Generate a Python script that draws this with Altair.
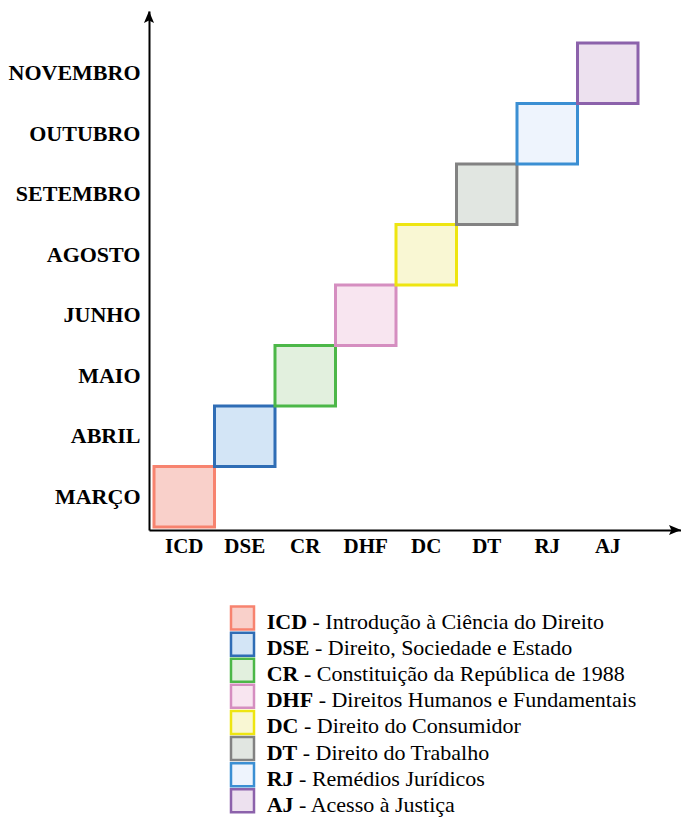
import altair as alt
import pandas as pd

# ---- data ----
courses = ["ICD", "DSE", "CR", "DHF", "DC", "DT", "RJ", "AJ"]
months = ["MARÇO", "ABRIL", "MAIO", "JUNHO", "AGOSTO", "SETEMBRO", "OUTUBRO", "NOVEMBRO"]
names = [
    "Introdução à Ciência do Direito",
    "Direito, Sociedade e Estado",
    "Constituição da República de 1988",
    "Direitos Humanos e Fundamentais",
    "Direito do Consumidor",
    "Direito do Trabalho",
    "Remédios Jurídicos",
    "Acesso à Justiça",
]
stroke_colors = ["#F7836F", "#2F6DB5", "#4CB748", "#D58EC0", "#EEE511", "#828282", "#3B8FD3", "#8C62AB"]
fill_colors = ["#F9D0CA", "#D3E5F6", "#E2F0DE", "#F8E5F0", "#F9F7D3", "#E1E6E1", "#EEF4FD", "#EDE1EF"]

FONT = "Liberation Serif"

# ---- layout helpers ----
W, H = 532, 519
STEP = 60.5
bands = 8 * STEP
x_outer = W - bands
y_outer = H - bands

# Times/Liberation Serif Bold advance widths (em)
bold_w = {"I": .389, "C": .722, "D": .722, "S": .556, "E": .667, "R": .722,
          "H": .778, "F": .611, "T": .667, "J": .5, "A": .722}
LEG_FS = 22
TEXT_X = 117.7
SPACE = 0.25

df = pd.DataFrame({"course": courses, "month": months, "name": names})
df["desc"] = "- " + df["name"]
df["desc_x"] = [TEXT_X + (sum(bold_w[c] for c in a) + SPACE) * LEG_FS for a in courses]

fill_scale = alt.Scale(domain=courses, range=fill_colors)
stroke_scale = alt.Scale(domain=courses, range=stroke_colors)

xs = alt.Scale(domain=courses, paddingInner=0, paddingOuter=x_outer / 2 / STEP, align=5 / x_outer)
ys = alt.Scale(domain=months[::-1], paddingInner=0, paddingOuter=y_outer / 2 / STEP, align=32 / y_outer)

axis_common = dict(
    title=None, ticks=False, grid=False, domainColor="black", domainWidth=2,
    labelFont=FONT, labelFontWeight="bold", labelColor="black", labelAngle=0,
)

rects = alt.Chart(df).mark_rect(strokeWidth=3).encode(
    x=alt.X("course:N", scale=xs, axis=alt.Axis(labelFontSize=21, labelPadding=5, **axis_common)),
    y=alt.Y("month:N", scale=ys, axis=alt.Axis(labelFontSize=22, labelPadding=9, **axis_common)),
    fill=alt.Fill("course:N", scale=fill_scale, legend=None),
    stroke=alt.Stroke("course:N", scale=stroke_scale, legend=None),
)

AR = 12  # arrowhead half-size in px (size = (2*AR)^2)
one = pd.DataFrame({"a": [0]})
arrow_up = alt.Chart(one).mark_point(
    shape="M0,-1 L-0.42,0 L0,-0.2 L0.42,0 Z", filled=True, color="black", opacity=1, size=(2 * AR) ** 2
).encode(x=alt.value(0), y=alt.value(AR))
arrow_right = alt.Chart(one).mark_point(
    shape="M1,0 L0,-0.42 L0.2,0 L0,0.42 Z", filled=True, color="black", opacity=1, size=(2 * AR) ** 2
).encode(x=alt.value(W - AR), y=alt.value(H))

main = alt.layer(rects, arrow_up, arrow_right).properties(width=W, height=H)

# ---- legend ----
LSTEP = 26.1
ly = alt.Y("course:N", scale=alt.Scale(domain=courses, paddingInner=0, paddingOuter=0), axis=None)
leg_sym = alt.Chart(df).mark_square(size=529, strokeWidth=2.5, opacity=1).encode(
    x=alt.value(93.5), y=ly,
    fill=alt.Fill("course:N", scale=fill_scale, legend=None),
    stroke=alt.Stroke("course:N", scale=stroke_scale, legend=None),
)
leg_abbr = alt.Chart(df).mark_text(
    align="left", baseline="alphabetic", dy=11, font=FONT, fontWeight="bold", fontSize=LEG_FS, color="black"
).encode(x=alt.value(TEXT_X), y=ly, text="course:N")
leg_desc = alt.Chart(df).mark_text(
    align="left", baseline="alphabetic", dy=11, font=FONT, fontSize=LEG_FS, color="black"
).encode(x=alt.X("desc_x:Q", scale=None), y=ly, text="desc:N")

legend = alt.layer(leg_sym, leg_abbr, leg_desc).properties(width=W, height=8 * LSTEP)

chart = alt.vconcat(main, legend, spacing=45).properties(
    padding={"left": 0, "top": 3, "right": 0, "bottom": 0},
    background="white",
).configure_view(strokeWidth=0)

chart.save("out.html", embed_options={"renderer": "svg", "actions": False})
